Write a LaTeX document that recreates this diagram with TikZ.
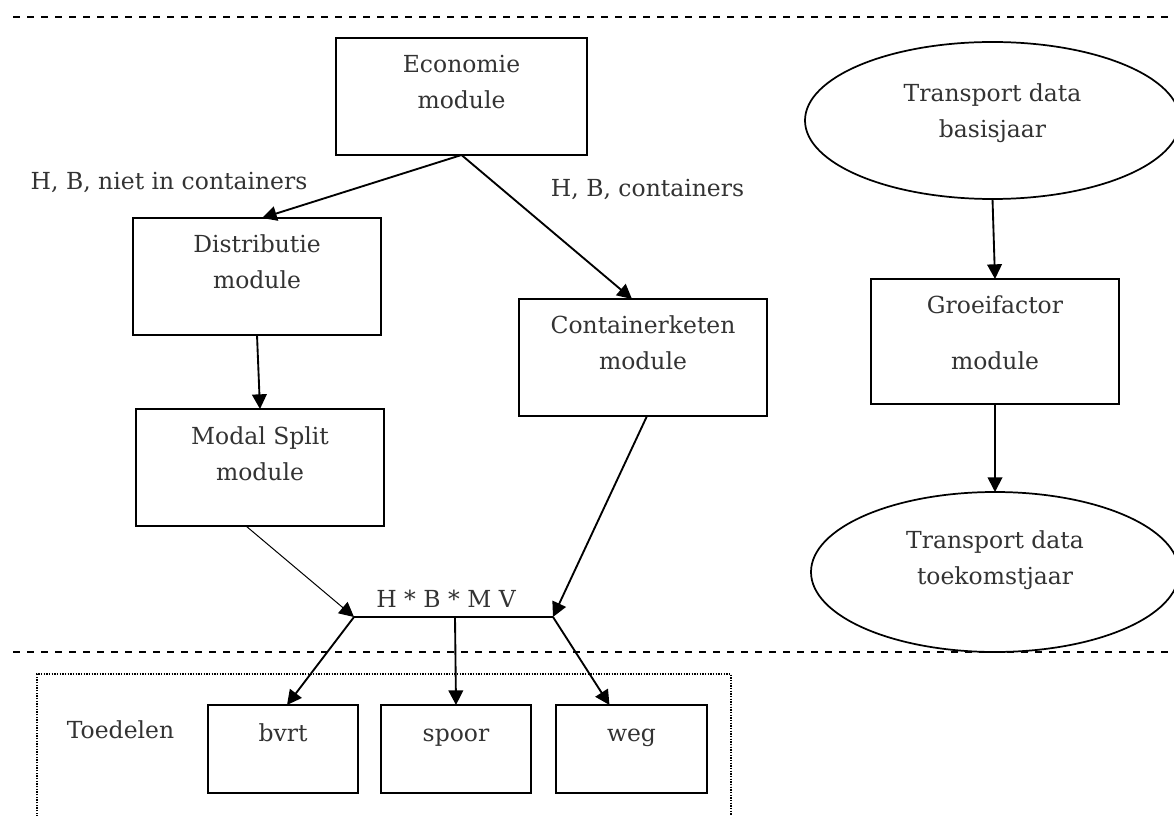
\documentclass[tikz,border=0pt]{standalone}
\usepackage{fontspec}
\setmainfont{DejaVu Serif}
\usetikzlibrary{shapes.geometric,arrows.meta}
\newdimen\pxu \pxu=0.75pt
\newcommand\boxtext[4]{\parbox[c][#2\pxu][t]{#1\pxu}{\centering\rule{0pt}{#3\pxu}#4}}
\begin{document}
\begin{tikzpicture}[x=0.75pt,y=-0.75pt,
  txt/.style={text=black!80, font=\fontsize{17.6pt}{27pt}\selectfont},
  modbox/.style={draw, line width=1.3pt, inner sep=0pt, outer sep=0pt, txt},
  blob/.style={draw, ellipse, line width=1.3pt, inner sep=0pt, outer sep=0pt, txt},
  arr/.style={line width=1.4pt, -{Triangle[length=11pt,width=11pt]}},
  thinarr/.style={line width=0.75pt, -{Triangle[length=11pt,width=11pt]}},
  sepline/.style={dash pattern=on 5.25pt off 5.25pt, line width=1.4pt},
  dotline/.style={dash pattern=on 1pt off 1pt, line width=1pt},
]
\useasboundingbox (0,0) rectangle (1174,816);
\fill[white] (0,0) rectangle (1174,816);

% separators
\draw[sepline] (13,17) -- (1174,17);
\draw[sepline] (13,652) -- (1174,652);
\draw[dotline] (37,830) -- (37,674) -- (731,674) -- (731,830);

% module boxes
\node[modbox] (econ)  at (461.5,96.5) {\boxtext{251}{117}{35}{Economie\\module}};
\node[modbox] (distr) at (257,276.5)  {\boxtext{248}{117}{35}{Distributie\\module}};
\node[modbox] (modal) at (260,467.5)  {\boxtext{248}{117}{35}{Modal Split\\module}};
\node[modbox] (cont)  at (643,357.5)  {\boxtext{248}{117}{35}{Containerketen\\module}};
\node[modbox] (groei) at (995,341.5)  {\boxtext{248}{125}{35}{Groeifactor\\[20\pxu]module}};
\node[modbox] (bvrt)  at (283,749)    {\boxtext{150}{88}{36}{bvrt}};
\node[modbox] (spoor) at (456,749)    {\boxtext{150}{88}{36}{spoor}};
\node[modbox] (weg)   at (631.5,749)  {\boxtext{151}{88}{36}{weg}};

% ellipses
\node[blob, minimum width=375\pxu, minimum height=157\pxu] (basis) at (992.5,120.5)
  {\boxtext{220}{84}{23.5}{Transport data\\basisjaar}};
\node[blob, minimum width=368\pxu, minimum height=160\pxu] (toek) at (995,572)
  {\boxtext{220}{90}{21}{Transport data\\toekomstjaar}};

% labels
\node[txt, anchor=base] (lbla) at (169,190) {H, B, niet in containers};
\node[txt, anchor=base] (lblb) at (647.5,197) {H, B, containers};
\node[txt, anchor=base] (hbmv) at (446,607) {H * B * M V};
\node[txt, anchor=base] (toed) at (120.5,738) {Toedelen};

% junction
\coordinate (jl) at (354,617);
\coordinate (jm) at (455,617);
\coordinate (jr) at (553,617);

% connectors
\draw[arr] (econ.south) -- ([xshift=5\pxu]distr.north);
\draw[arr] (econ.south) -- ([xshift=-11\pxu]cont.north);
\draw[arr] (distr.south) -- (modal.north);
\draw[thinarr] ([xshift=-14\pxu]modal.south) -- (jl);
\draw[arr] ([xshift=4\pxu]cont.south) -- (jr);
\draw[line width=1pt] (jl) -- (jr);
\draw[arr] (jl) -- ([xshift=4\pxu]bvrt.north);
\draw[arr] (jm) -- (spoor.north);
\draw[arr] (jr) -- ([xshift=-22\pxu]weg.north);
\draw[arr] (basis.south) -- (groei.north);
\draw[arr] (groei.south) -- (toek.north);
\end{tikzpicture}
\end{document}
